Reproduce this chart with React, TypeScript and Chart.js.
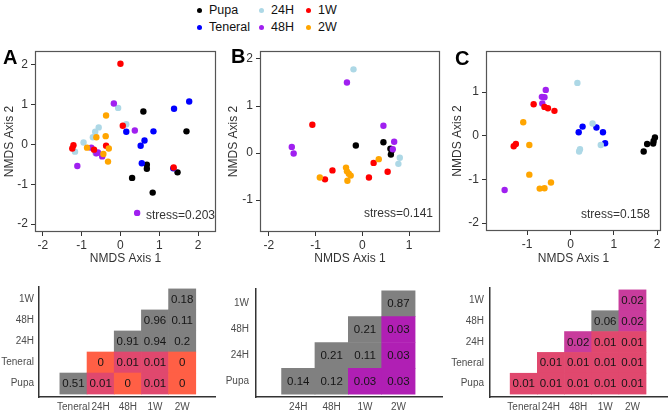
import React, { useEffect, useRef } from 'react';
import { Chart, registerables } from 'chart.js';

Chart.register(...registerables);

const FONT = "'Liberation Sans', Arial, Helvetica, sans-serif";

// ---------- legend / groups ----------
const groupNames = ['Pupa', 'Teneral', '24H', '48H', '1W', '2W'];
const groupColors = ['#000000', '#0000FF', '#ADD8E6', '#A020F0', '#FF0000', '#FFA500'];

// ---------- Panel A (NMDS) ----------
const pupaA = [[0.59, 0.83], [1.7, 0.33], [0.68, -0.51], [0.68, -0.61], [0.3, -0.84], [0.83, -1.21], [1.47, -0.7]];
const tenA = [[1.77, 1.08], [1.38, 0.9], [0.15, 0.32], [0.85, 0.33], [0.62, 0.1], [0.52, -0.03], [0.55, -0.47], [1.36, -0.6]];
const h24A = [[-0.06, 0.92], [0.15, 0.51], [-0.56, 0.43], [-0.65, 0.32], [-0.71, 0.18], [-0.95, 0.05], [-1.17, -0.18], [-0.64, -0.22]];
const h48A = [[-0.17, 1.03], [0.37, 0.35], [-0.75, -0.08], [-0.58, -0.2], [-0.62, -0.22], [-0.47, -0.3], [-1.11, -0.54], [0.43, -1.72]];
const w1A = [[0, 2.03], [0.06, 0.47], [-1.21, -0.02], [-1.24, -0.1], [-0.68, -0.13], [-0.37, -0.03], [1.37, -0.58]];
const w2A = [[-0.37, 0.73], [-0.62, 0.18], [-0.38, 0.21], [-0.86, -0.08], [-0.44, -0.24], [-0.3, -0.1], [-0.32, -0.43]];

// ---------- Panel B (NMDS) ----------
const pupaB = [[-0.14, 0.16], [0.45, 0.23], [0.6, 0.09], [0.61, -0.03], [0.63, 0.06]];
const tenB: number[][] = [];
const h24B = [[-0.19, 1.78], [0.8, -0.1], [0.77, -0.23]];
const h48B = [[-0.33, 1.5], [0.45, 0.58], [0.68, 0.24], [0.65, 0.08], [-1.51, 0.13], [-1.47, -0.01]];
const w1B = [[-1.07, 0.6], [-0.64, -0.37], [-0.8, -0.56], [0.24, -0.21], [0.14, -0.52], [0.54, -0.4]];
const w2B = [[-0.91, -0.52], [-0.35, -0.31], [-0.33, -0.39], [-0.29, -0.44], [-0.25, -0.48], [-0.32, -0.59], [0.35, -0.13]];

// ---------- Panel C (NMDS) ----------
const pupaC = [[1.69, -0.36], [1.77, -0.19], [1.91, -0.18], [1.95, -0.04], [1.92, -0.12]];
const tenC = [[0.19, 0.08], [0.28, 0.21], [0.6, 0.19], [0.75, 0.08], [0.8, -0.17]];
const h24C = [[0.16, 1.21], [0.51, 0.28], [0.7, -0.21], [0.22, -0.31], [0.2, -0.36]];
const h48C = [[-0.57, 1.05], [-0.66, 0.89], [-0.6, 0.88], [-0.65, 0.74], [-1.52, -1.24]];
const w1C = [[-0.85, 0.72], [-0.6, 0.66], [-0.52, 0.63], [-0.37, 0.57], [-1.26, -0.19], [-1.31, -0.24]];
const w2C = [[-1.09, 0.31], [-0.95, -0.21], [-0.95, -0.89], [-0.71, -1.21], [-0.6, -1.2], [-0.45, -1.07]];

// ---------- axis ticks ----------
const xTicksA = [-2, -1, 0, 1, 2];
const yTicksA = [-2, -1, 0, 1, 2];
const xTicksB = [-2, -1, 0, 1];
const yTicksB = [-1, 0, 1, 2];
const xTicksC = [-1, 0, 1, 2];
const yTicksC = [-2, -1, 0, 1];

const stressA = 'stress=0.203';
const stressB = 'stress=0.141';
const stressC = 'stress=0.158';

// ---------- Heatmaps (p-values) ----------
const hmColsA = ['Teneral', '24H', '48H', '1W', '2W'];
const hmRowsA = ['Pupa', 'Teneral', '24H', '48H', '1W'];
const hmValsA = [
  [0.51, 0.01, 0, 0.01, 0],
  [null, 0, 0.01, 0.01, 0],
  [null, null, 0.91, 0.94, 0.2],
  [null, null, null, 0.96, 0.11],
  [null, null, null, null, 0.18],
];

const hmColsB = ['24H', '48H', '1W', '2W'];
const hmRowsB = ['Pupa', '24H', '48H', '1W'];
const hmValsB = [
  [0.14, 0.12, 0.03, 0.03],
  [null, 0.21, 0.11, 0.03],
  [null, null, 0.21, 0.03],
  [null, null, null, 0.87],
];

const hmColsC = ['Teneral', '24H', '48H', '1W', '2W'];
const hmRowsC = ['Pupa', 'Teneral', '24H', '48H', '1W'];
const hmValsC = [
  [0.01, 0.01, 0.01, 0.01, 0.01],
  [null, 0.01, 0.01, 0.01, 0.01],
  [null, null, 0.02, 0.01, 0.01],
  [null, null, null, 0.06, 0.02],
  [null, null, null, null, 0.02],
];

function cellColor(v: number) {
  if (v >= 0.05) return '#808080';
  if (v < 0.005) return '#FF5F45';
  if (v < 0.015) return '#E0486E';
  if (v < 0.025) return '#C83C9C';
  return '#B01FB4';
}

const framePlugin = {
  id: 'frame',
  beforeDatasetsDraw(chart: any) {
    const { ctx, chartArea } = chart;
    const { left, top, right, bottom } = chartArea;
    ctx.save();
    ctx.strokeStyle = '#555555';
    ctx.lineWidth = 1.2;
    ctx.strokeRect(left + 0.5, top + 0.5, right - left - 1, bottom - top - 1);
    ctx.restore();
  },
};

const cellTextPlugin = {
  id: 'cellText',
  afterDatasetsDraw(chart: any) {
    const { ctx } = chart;
    ctx.save();
    ctx.font = `11.5px ${FONT}`;
    ctx.fillStyle = '#151515';
    ctx.textAlign = 'center';
    ctx.textBaseline = 'middle';
    chart.data.datasets.forEach((ds: any, di: number) => {
      const meta = chart.getDatasetMeta(di);
      meta.data.forEach((el: any, i: number) => {
        const p = el.getProps(['x', 'y', 'base'], true);
        ctx.fillText(ds.cellText[i], p.x, (p.y + p.base) / 2 + 0.5);
      });
    });
    ctx.restore();
  },
};

function scatterConfig(groups: number[][][], xr: number[], yr: number[], xt: number[], yt: number[], yAxisW: number, yTitlePad: number, padTop: number, padRight: number, xAxisH: number) {
  const datasets: any[] = [];
  groups.forEach((pts, i) => {
    if (!pts.length) return;
    datasets.push({
      label: groupNames[i],
      data: pts.map(([x, y]) => ({ x, y })),
      backgroundColor: groupColors[i],
      borderColor: groupColors[i],
      borderWidth: 0,
      pointRadius: 3.2,
      pointHoverRadius: 3.2,
      order: groups.length - i,
    });
  });
  const tickFont = { family: FONT, size: 12 };
  return {
    type: 'scatter',
    data: { datasets },
    options: {
      responsive: false,
      animation: false,
      events: [],
      layout: { padding: { top: padTop, right: padRight, left: 0, bottom: 0 } },
      plugins: { legend: { display: false }, tooltip: { enabled: false } },
      scales: {
        x: {
          type: 'linear',
          min: xr[0],
          max: xr[1],
          afterBuildTicks: (s: any) => { s.ticks = xt.map((v) => ({ value: v })); },
          afterFit: (s: any) => { s.height = xAxisH; },
          ticks: { color: '#333333', font: tickFont, padding: 2, maxRotation: 0, minRotation: 0, callback: (v: any) => String(v) },
          grid: { display: true, drawOnChartArea: false, drawTicks: true, tickLength: 4, color: '#333333' },
          border: { display: false },
          title: { display: true, text: 'NMDS Axis 1', color: '#333333', font: { family: FONT, size: 12 }, padding: { top: 0, bottom: 6 } },
        },
        y: {
          type: 'linear',
          min: yr[0],
          max: yr[1],
          afterBuildTicks: (s: any) => { s.ticks = yt.map((v) => ({ value: v })); },
          afterFit: (s: any) => { s.width = yAxisW; },
          ticks: { color: '#333333', font: tickFont, padding: 3, callback: (v: any) => String(v) },
          grid: { display: true, drawOnChartArea: false, drawTicks: true, tickLength: 4, color: '#333333' },
          border: { display: false },
          title: { display: true, text: 'NMDS Axis 2', color: '#333333', font: { family: FONT, size: 12 }, padding: { top: yTitlePad, bottom: 0 } },
        },
      },
    },
    plugins: [framePlugin],
  };
}

function heatConfig(cols: string[], rows: string[], vals: (number | null)[][], xr: number[], yr: number[], yAxisW: number, labelPad: number, padTop: number, padRight: number, xAxisH: number) {
  const datasets = rows.map((_, ri) => {
    const cells: { x: number; v: number }[] = [];
    vals[ri].forEach((v, ci) => { if (v !== null) cells.push({ x: ci, v: v as number }); });
    return {
      data: cells.map((c) => ({ x: c.x, y: [ri - 0.5, ri + 0.5] })),
      cellText: cells.map((c) => String(c.v)),
      backgroundColor: cells.map((c) => cellColor(c.v)),
      borderWidth: 0,
      grouped: false,
      barPercentage: 1,
      categoryPercentage: 1,
    };
  });
  const labelFont = { family: FONT, size: 10 };
  const axisLine = { display: true, color: '#333333', width: 1.5 };
  return {
    type: 'bar',
    data: { datasets },
    options: {
      responsive: false,
      animation: false,
      events: [],
      layout: { padding: { top: padTop, right: padRight, left: 0, bottom: 0 } },
      plugins: { legend: { display: false }, tooltip: { enabled: false } },
      scales: {
        x: {
          type: 'linear',
          min: xr[0],
          max: xr[1],
          afterBuildTicks: (s: any) => { s.ticks = cols.map((_, i) => ({ value: i })); },
          afterFit: (s: any) => { s.height = xAxisH; },
          ticks: { color: '#4d4d4d', font: labelFont, padding: 4, maxRotation: 0, minRotation: 0, autoSkip: false, callback: (v: any) => cols[Math.round(Number(v))] },
          grid: { display: false, drawTicks: false },
          border: axisLine,
        },
        y: {
          type: 'linear',
          min: yr[0],
          max: yr[1],
          afterBuildTicks: (s: any) => { s.ticks = rows.map((_, i) => ({ value: i })); },
          afterFit: (s: any) => { s.width = yAxisW; },
          ticks: { color: '#4d4d4d', font: labelFont, padding: labelPad, autoSkip: false, callback: (v: any) => rows[Math.round(Number(v))] },
          grid: { display: false, drawTicks: false },
          border: axisLine,
        },
      },
    },
    plugins: [cellTextPlugin],
  };
}

const canvasBoxes = [
  { left: 0, top: 40, w: 222, h: 232 },
  { left: 222, top: 40, w: 222, h: 232 },
  { left: 444, top: 40, w: 224, h: 232 },
  { left: 0, top: 276, w: 222, h: 136 },
  { left: 222, top: 276, w: 222, h: 136 },
  { left: 444, top: 276, w: 224, h: 136 },
];

function makeConfigs(): any[] {
  return [
    scatterConfig([pupaA, tenA, h24A, h48A, w1A, w2A], [-2.2, 2.46], [-2.2, 2.35], xTicksA, yTicksA, 35, 2.3, 11, 6, 40),
    scatterConfig([pupaB, tenB, h24B, h48B, w1B, w2B], [-2.19, 1.66], [-1.68, 2.17], xTicksB, yTicksB, 38, 4.8, 11, 4, 40),
    scatterConfig([pupaC, tenC, h24C, h48C, w1C, w2C], [-1.95, 2.09], [-2.18, 1.94], xTicksC, yTicksC, 42, 6.8, 11, 7, 41),
    heatConfig(hmColsA, hmRowsA, hmValsA, [-0.62, 4.56], [-0.64, 4.59], 39, 5, 7, 7, 15),
    heatConfig(hmColsB, hmRowsB, hmValsB, [-0.57, 3.61], [-0.61, 3.57], 34, 7, 7, 2, 15),
    heatConfig(hmColsC, hmRowsC, hmValsC, [-0.59, 4.62], [-0.64, 4.59], 46, 6, 7, 1, 15),
  ];
}

const legendCols = [
  { x: 199, items: [0, 1] },
  { x: 261, items: [2, 3] },
  { x: 308, items: [4, 5] },
];
const legendRowsY = [10, 27];

export default function App() {
  const refs = useRef<(HTMLCanvasElement | null)[]>([]);

  useEffect(() => {
    const configs = makeConfigs();
    const charts = configs.map((cfg, i) => new Chart(refs.current[i] as HTMLCanvasElement, cfg));
    return () => charts.forEach((c) => c.destroy());
  }, []);

  const text = (s: string, left: number, top: number, size: number, extra: any = {}) => (
    <div style={{ position: 'absolute', left, top, fontSize: size, lineHeight: `${size}px`, fontFamily: FONT, color: '#222', whiteSpace: 'nowrap', ...extra }}>{s}</div>
  );

  return (
    <div style={{ position: 'fixed', left: 0, top: 0, width: 668, height: 412, background: '#ffffff', overflow: 'hidden' }}>
      {canvasBoxes.map((b, i) => (
        <canvas
          key={i}
          ref={(el) => { refs.current[i] = el; }}
          width={b.w}
          height={b.h}
          style={{ position: 'absolute', left: b.left, top: b.top, width: b.w, height: b.h }}
        />
      ))}
      {legendCols.map((col, ci) =>
        col.items.map((gi, ri) => (
          <React.Fragment key={`${ci}-${ri}`}>
            <div style={{ position: 'absolute', left: col.x - 2.5, top: legendRowsY[ri] - 2.5, width: 5, height: 5, borderRadius: '50%', background: groupColors[gi] }} />
            {text(groupNames[gi], col.x + 10, legendRowsY[ri] - 7, 12.5, { lineHeight: '14px', color: '#111' })}
          </React.Fragment>
        ))
      )}
      {text('A', 3, 47, 20, { fontWeight: 'bold', color: '#000' })}
      {text('B', 231, 46, 20, { fontWeight: 'bold', color: '#000' })}
      {text('C', 455, 48, 20, { fontWeight: 'bold', color: '#000' })}
      {text(stressA, 146, 209, 12, { color: '#333' })}
      {text(stressB, 364, 207, 12, { color: '#333' })}
      {text(stressC, 581, 208, 12, { color: '#333' })}
    </div>
  );
}
